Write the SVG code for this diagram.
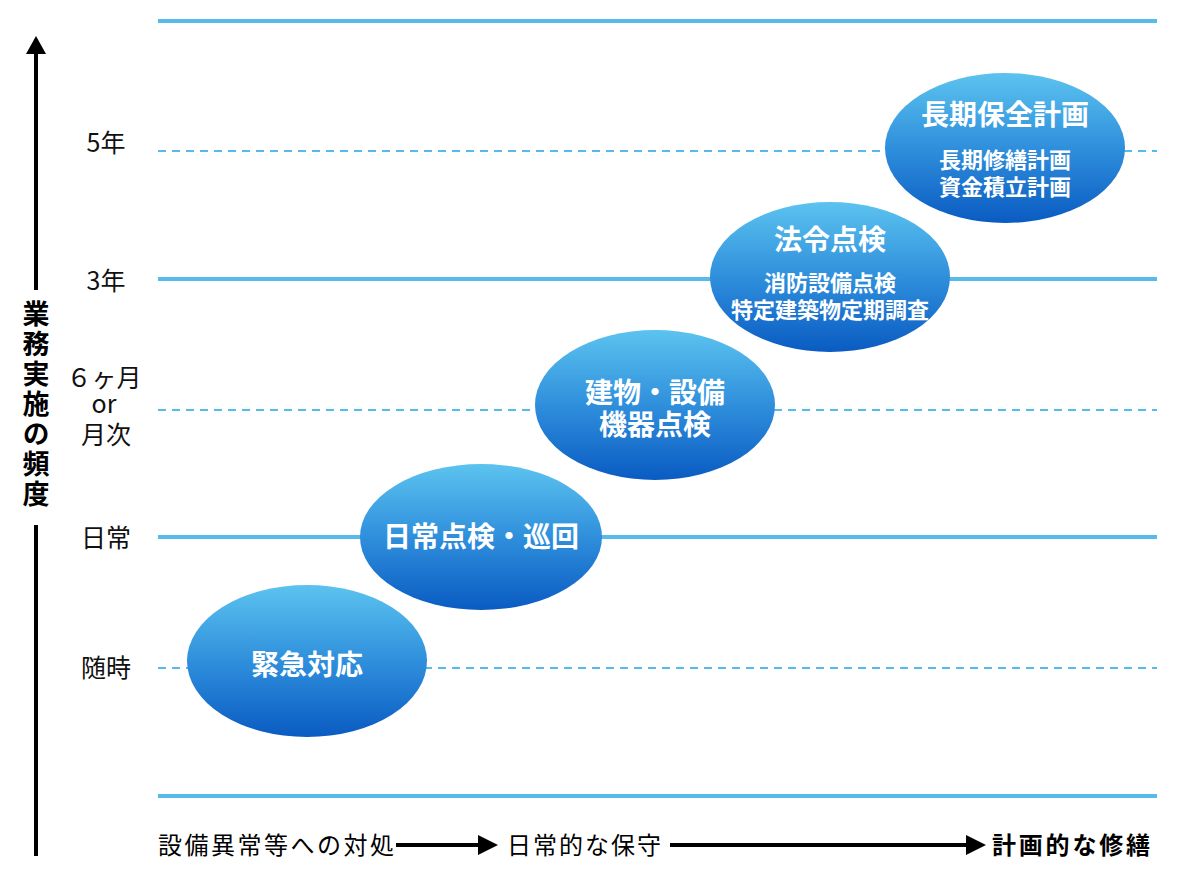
<svg xmlns="http://www.w3.org/2000/svg" width="1200" height="875" viewBox="0 0 1200 875">
<defs>
<linearGradient id="g" x1="0" y1="0" x2="0" y2="1">
<stop offset="0" stop-color="#5cc3ef"/>
<stop offset="0.5" stop-color="#2f8fdc"/>
<stop offset="1" stop-color="#0a5bc2"/>
</linearGradient>
</defs>
<style>
.solid{stroke:#56bbea;stroke-width:4;fill:none}
.dash{stroke:#56bbea;stroke-width:2;stroke-dasharray:8 6;fill:none}
.lbl{font-family:"Noto Sans CJK JP","Noto Sans",sans-serif;font-size:25px;fill:#111;text-anchor:middle}
.ax{font-family:"Noto Sans CJK JP",sans-serif;font-size:27px;font-weight:bold;fill:#000;writing-mode:vertical-rl;letter-spacing:3px}
.bt{font-family:"Noto Sans CJK JP",sans-serif;font-size:24px;fill:#000}
.ell{fill:url(#g)}
.t1{font-family:"Noto Sans CJK JP",sans-serif;font-size:28px;font-weight:bold;fill:#fff;text-anchor:middle}
.t2{font-family:"Noto Sans CJK JP",sans-serif;font-size:22px;font-weight:bold;fill:#fff;text-anchor:middle}
</style>
<g id="grid">
<line class="solid" x1="158" y1="21" x2="1157" y2="21"/>
<line class="dash" x1="158" y1="151" x2="1157" y2="151"/>
<line class="solid" x1="158" y1="279" x2="1157" y2="279"/>
<line class="dash" x1="158" y1="410" x2="1157" y2="410"/>
<line class="solid" x1="158" y1="537" x2="1157" y2="537"/>
<line class="dash" x1="158" y1="668" x2="1157" y2="668"/>
<line class="solid" x1="158" y1="796" x2="1157" y2="796"/>
</g>
<g id="yaxis">
<line x1="36" y1="290" x2="36" y2="50" stroke="#000" stroke-width="4"/>
<path d="M36,36 L26,54 L46,54 Z" fill="#000"/>
<line x1="36" y1="525" x2="36" y2="856" stroke="#000" stroke-width="4"/>
<text class="ax" x="36" y="300">業務実施の頻度</text>
</g>
<g id="ylabels">
<text class="lbl" x="106" y="152">5年</text>
<text class="lbl" x="106" y="290">3年</text>
<text class="lbl"><tspan x="104" y="387">６ヶ月</tspan><tspan x="104" y="413">or</tspan><tspan x="106" y="444">月次</tspan></text>
<text class="lbl" x="106" y="547">日常</text>
<text class="lbl" x="106" y="677">随時</text>
</g>
<g id="n1">
<ellipse class="ell" cx="307" cy="661" rx="120" ry="76"/>
<text class="t1" x="307" y="675">緊急対応</text>
</g>
<g id="n2">
<ellipse class="ell" cx="481" cy="537" rx="121" ry="73"/>
<text class="t1" x="481" y="547">日常点検・巡回</text>
</g>
<g id="n3">
<ellipse class="ell" cx="655" cy="405" rx="120" ry="75"/>
<text class="t1"><tspan x="655" y="403">建物・設備</tspan><tspan x="655" y="435">機器点検</tspan></text>
</g>
<g id="n4">
<ellipse class="ell" cx="830" cy="277" rx="120" ry="75"/>
<text class="t1" x="830" y="250">法令点検</text>
<text class="t2"><tspan x="830" y="291">消防設備点検</tspan><tspan x="830" y="318">特定建築物定期調査</tspan></text>
</g>
<g id="n5">
<ellipse class="ell" cx="1005" cy="148" rx="120" ry="75"/>
<text class="t1" x="1005" y="125">長期保全計画</text>
<text class="t2"><tspan x="1005" y="168">長期修繕計画</tspan><tspan x="1005" y="195">資金積立計画</tspan></text>
</g>
<g id="connectors">
<line x1="396" y1="845" x2="480" y2="845" stroke="#000" stroke-width="4"/>
<path d="M498,845 L478,835 L478,855 Z" fill="#000"/>
<line x1="670" y1="845" x2="968" y2="845" stroke="#000" stroke-width="4"/>
<path d="M986,845 L966,835 L966,855 Z" fill="#000"/>
</g>
<g id="xlabels">
<text class="bt" x="158" y="854" textLength="236">設備異常等への対処</text>
<text class="bt" x="507" y="854" textLength="154">日常的な保守</text>
<text class="bt" x="992" y="854" font-weight="bold" textLength="158">計画的な修繕</text>
</g>
</svg>
